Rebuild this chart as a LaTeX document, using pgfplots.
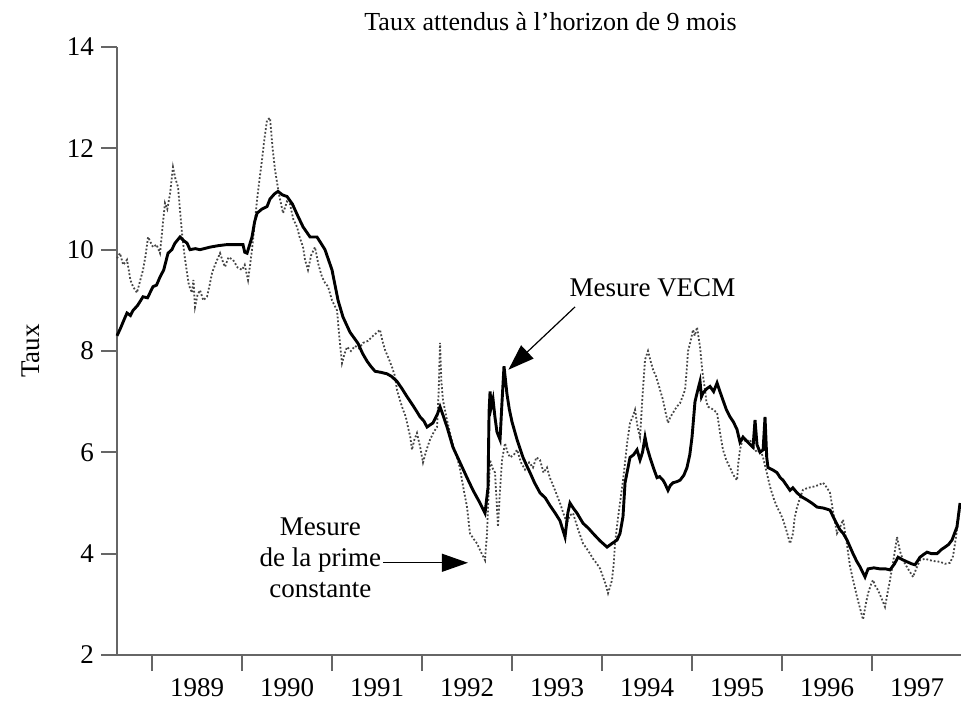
\documentclass[border=0pt]{standalone}
\usepackage{fontspec}
\setmainfont{Liberation Serif}
\usepackage{pgfplots}
\usepackage{pgfplotstable}
\pgfplotsset{compat=1.18}
\usetikzlibrary{arrows.meta}

\pgfplotstableread{
x y
1988.611 8.30
1988.650 8.45
1988.690 8.62
1988.722 8.75
1988.760 8.70
1988.789 8.80
1988.840 8.90
1988.900 9.07
1988.950 9.05
1989.011 9.27
1989.050 9.30
1989.089 9.46
1989.130 9.60
1989.178 9.93
1989.220 10.00
1989.256 10.13
1989.311 10.25
1989.350 10.18
1989.389 10.13
1989.422 10.00
1989.480 10.02
1989.533 10.00
1989.644 10.05
1989.740 10.08
1989.833 10.10
1989.930 10.10
1990.011 10.10
1990.030 9.95
1990.056 9.93
1990.111 10.25
1990.140 10.55
1990.167 10.72
1990.220 10.80
1990.278 10.85
1990.311 11.00
1990.360 11.10
1990.400 11.15
1990.450 11.08
1990.500 11.05
1990.560 10.90
1990.611 10.70
1990.678 10.45
1990.756 10.25
1990.833 10.25
1990.880 10.12
1990.922 10.00
1991.000 9.60
1991.067 9.00
1991.122 8.67
1991.200 8.37
1991.289 8.15
1991.340 7.95
1991.389 7.80
1991.430 7.70
1991.478 7.60
1991.540 7.58
1991.611 7.55
1991.660 7.50
1991.722 7.40
1991.780 7.25
1991.833 7.10
1991.890 6.95
1991.944 6.80
1991.978 6.70
1992.020 6.62
1992.056 6.50
1992.122 6.58
1992.170 6.75
1992.200 6.90
1992.240 6.70
1992.278 6.50
1992.344 6.10
1992.422 5.80
1992.500 5.50
1992.567 5.25
1992.644 5.00
1992.700 4.80
1992.733 5.30
1992.745 6.80
1992.756 7.20
1992.770 6.90
1992.789 7.05
1992.810 6.70
1992.833 6.40
1992.867 6.25
1992.889 7.00
1992.911 7.70
1992.944 7.15
1992.970 6.85
1993.000 6.60
1993.056 6.25
1993.122 5.90
1993.160 5.75
1993.200 5.60
1993.250 5.40
1993.311 5.20
1993.370 5.10
1993.422 4.95
1993.480 4.80
1993.533 4.65
1993.589 4.33
1993.620 4.80
1993.644 5.00
1993.680 4.90
1993.722 4.80
1993.789 4.60
1993.850 4.50
1993.900 4.40
1993.980 4.25
1994.056 4.13
1994.110 4.20
1994.167 4.27
1994.200 4.40
1994.233 4.73
1994.256 5.40
1994.278 5.60
1994.311 5.90
1994.350 5.95
1994.389 6.05
1994.422 5.85
1994.450 6.00
1994.478 6.30
1994.500 6.10
1994.533 5.90
1994.570 5.70
1994.611 5.50
1994.640 5.52
1994.678 5.45
1994.700 5.38
1994.733 5.25
1994.760 5.35
1994.789 5.40
1994.830 5.42
1994.867 5.45
1994.910 5.55
1994.944 5.70
1994.975 5.95
1995.000 6.30
1995.033 7.00
1995.060 7.20
1995.089 7.40
1995.105 7.10
1995.122 7.17
1995.160 7.25
1995.200 7.30
1995.240 7.20
1995.278 7.37
1995.310 7.20
1995.344 7.03
1995.380 6.85
1995.422 6.70
1995.460 6.60
1995.500 6.45
1995.533 6.20
1995.567 6.30
1995.620 6.20
1995.678 6.10
1995.700 6.64
1995.722 6.15
1995.756 6.00
1995.790 6.05
1995.811 6.70
1995.830 5.90
1995.844 5.70
1995.900 5.65
1995.944 5.60
1995.980 5.50
1996.011 5.45
1996.050 5.35
1996.089 5.25
1996.120 5.30
1996.167 5.20
1996.220 5.12
1996.278 5.06
1996.330 5.00
1996.389 4.92
1996.460 4.90
1996.533 4.86
1996.590 4.65
1996.644 4.47
1996.680 4.40
1996.722 4.27
1996.789 4.00
1996.830 3.85
1996.867 3.74
1996.922 3.54
1996.956 3.70
1997.020 3.72
1997.089 3.70
1997.150 3.70
1997.200 3.68
1997.250 3.80
1997.289 3.93
1997.340 3.88
1997.389 3.84
1997.440 3.80
1997.478 3.78
1997.533 3.93
1997.570 3.98
1997.611 4.03
1997.660 4.00
1997.722 4.00
1997.770 4.08
1997.811 4.13
1997.850 4.18
1997.889 4.27
1997.944 4.53
1997.978 5.00
}\vecm

\pgfplotstableread{
x y
1988.611 9.83
1988.644 9.93
1988.680 9.70
1988.722 9.80
1988.760 9.40
1988.789 9.27
1988.833 9.15
1988.870 9.40
1988.900 9.60
1988.930 9.90
1988.956 10.25
1989.011 10.05
1989.050 10.10
1989.089 9.93
1989.120 10.50
1989.144 10.92
1989.170 10.80
1989.200 11.10
1989.233 11.63
1989.260 11.40
1989.289 11.24
1989.310 10.80
1989.333 10.33
1989.360 9.90
1989.389 9.54
1989.410 9.30
1989.444 9.15
1989.460 9.40
1989.478 8.87
1989.505 9.10
1989.533 9.20
1989.570 9.00
1989.611 9.07
1989.640 9.30
1989.667 9.54
1989.700 9.70
1989.756 9.93
1989.790 9.75
1989.811 9.66
1989.850 9.85
1989.900 9.80
1989.950 9.65
1990.000 9.60
1990.030 9.70
1990.067 9.40
1990.090 9.70
1990.111 10.00
1990.140 10.50
1990.167 10.98
1990.195 11.40
1990.222 11.77
1990.250 12.20
1990.278 12.56
1990.311 12.60
1990.340 12.00
1990.367 11.57
1990.410 11.10
1990.456 10.72
1990.500 10.95
1990.533 10.90
1990.570 10.60
1990.611 10.45
1990.640 10.25
1990.678 10.05
1990.700 9.80
1990.733 9.60
1990.770 9.90
1990.811 10.05
1990.850 9.70
1990.889 9.46
1990.920 9.35
1990.956 9.27
1991.000 9.00
1991.056 8.80
1991.080 8.30
1991.111 7.76
1991.140 7.95
1991.167 8.08
1991.210 8.00
1991.256 8.10
1991.300 8.05
1991.344 8.16
1991.400 8.20
1991.444 8.28
1991.490 8.35
1991.533 8.42
1991.560 8.20
1991.589 8.02
1991.630 7.85
1991.667 7.68
1991.700 7.50
1991.722 7.23
1991.760 7.00
1991.789 6.84
1991.820 6.70
1991.844 6.50
1991.870 6.30
1991.889 6.05
1991.915 6.25
1991.944 6.38
1991.980 6.10
1992.011 5.80
1992.050 6.05
1992.089 6.25
1992.130 6.40
1992.167 6.50
1992.185 7.20
1992.200 8.16
1992.215 7.40
1992.233 7.03
1992.270 6.70
1992.311 6.38
1992.350 6.10
1992.389 5.90
1992.420 5.70
1992.444 5.45
1992.470 5.20
1992.500 4.92
1992.520 4.60
1992.533 4.40
1992.570 4.30
1992.611 4.20
1992.650 4.05
1992.700 3.87
1992.722 4.40
1992.740 5.20
1992.756 5.85
1992.780 5.70
1992.811 5.60
1992.830 5.00
1992.844 4.53
1992.865 5.20
1992.889 5.85
1992.922 6.18
1992.950 6.00
1992.978 5.90
1993.020 5.95
1993.056 6.05
1993.100 5.80
1993.144 5.66
1993.190 5.80
1993.233 5.70
1993.270 5.90
1993.311 5.85
1993.350 5.60
1993.389 5.70
1993.420 5.50
1993.456 5.35
1993.500 5.15
1993.533 5.00
1993.570 4.80
1993.611 4.60
1993.640 4.75
1993.678 4.80
1993.730 4.50
1993.789 4.20
1993.830 4.10
1993.867 4.00
1993.900 3.90
1993.944 3.80
1993.980 3.70
1994.011 3.54
1994.040 3.40
1994.067 3.22
1994.090 3.35
1994.111 3.48
1994.130 3.80
1994.144 4.20
1994.170 4.60
1994.200 5.00
1994.230 5.40
1994.256 5.80
1994.280 6.20
1994.311 6.58
1994.340 6.70
1994.367 6.84
1994.395 6.50
1994.422 6.30
1994.450 7.10
1994.478 7.83
1994.511 8.00
1994.540 7.80
1994.567 7.63
1994.600 7.50
1994.622 7.37
1994.650 7.20
1994.678 7.03
1994.705 6.80
1994.733 6.58
1994.760 6.70
1994.789 6.78
1994.830 6.90
1994.867 6.97
1994.895 7.10
1994.922 7.23
1994.940 7.60
1994.956 8.00
1994.985 8.20
1995.011 8.42
1995.030 8.30
1995.056 8.47
1995.070 8.30
1995.089 8.08
1995.115 7.60
1995.144 7.23
1995.160 7.00
1995.178 6.90
1995.230 6.85
1995.278 6.78
1995.310 6.40
1995.344 6.05
1995.380 5.85
1995.422 5.70
1995.460 5.55
1995.500 5.45
1995.515 5.80
1995.533 6.05
1995.567 6.30
1995.600 6.20
1995.644 6.25
1995.680 6.10
1995.722 6.00
1995.760 6.05
1995.789 5.90
1995.830 5.60
1995.867 5.32
1995.905 5.10
1995.944 4.92
1995.980 4.80
1996.011 4.67
1996.050 4.45
1996.089 4.20
1996.122 4.40
1996.140 4.70
1996.167 4.92
1996.200 5.10
1996.233 5.26
1996.290 5.30
1996.344 5.32
1996.400 5.35
1996.456 5.40
1996.500 5.30
1996.533 5.20
1996.570 4.80
1996.611 4.40
1996.640 4.50
1996.678 4.67
1996.720 4.20
1996.756 3.74
1996.800 3.40
1996.833 3.15
1996.870 2.90
1996.900 2.70
1996.930 3.00
1996.956 3.22
1996.990 3.40
1997.011 3.48
1997.040 3.35
1997.067 3.28
1997.110 3.10
1997.144 2.95
1997.170 3.20
1997.200 3.48
1997.240 3.90
1997.278 4.33
1997.310 4.05
1997.344 3.87
1997.400 3.70
1997.456 3.54
1997.490 3.70
1997.533 3.87
1997.590 3.90
1997.644 3.87
1997.700 3.85
1997.756 3.84
1997.810 3.80
1997.867 3.82
1997.900 3.95
1997.922 4.20
1997.950 4.55
1997.978 4.92
}\prime

\begin{document}
\begin{tikzpicture}
\useasboundingbox (-58.5pt,-23pt) rectangle (422pt,327.5pt);
\begin{axis}[
  at={(0pt,0pt)}, anchor=south west,
  scale only axis, width=422.5pt, height=304pt,
  xmin=1988.611, xmax=1998, ymin=2, ymax=14,
  axis x line=bottom, axis y line=left,
  axis line style={-, draw=gray!80!black, line width=0.9pt},
  tick align=outside, major tick length=8pt,
  tick style={draw=gray!80!black, line width=0.9pt},
  xtick={1989,1990,1991,1992,1993,1994,1995,1996,1997,1998},
  x tick label as interval,
  xticklabels={1989,1990,1991,1992,1993,1994,1995,1996,1997},
  xticklabel style={text height=9.3pt, text depth=0pt},
  ytick={2,4,6,8,10,12,14},
  /pgf/number format/assume math mode=true,
  tick label style={font=\fontsize{13.5}{16}\selectfont},
  label style={font=\fontsize{13.5}{16}\selectfont},
  ylabel={Taux},
  ylabel style={at={(axis description cs:-0.102,0.5)}, anchor=center},
  title={Taux attendus à l’horizon de 9 mois},
  title style={font=\fontsize{13}{16}\selectfont, at={(axis description cs:0.513,1.041)}, anchor=center, yshift=-6pt},
  clip=false,
]
\addplot[densely dotted, draw=gray!55!black, line width=0.9pt] table[x=x,y=y] {\prime};
\addplot[black, line width=1.45pt] table[x=x,y=y] {\vecm};
\node[font=\fontsize{13.5}{16}\selectfont] at (axis cs:1994.56,9.24) {Mesure VECM};
\draw[-{Triangle[length=13pt,width=9pt]}, line width=0.6pt] (axis cs:1993.70,8.87) -- (axis cs:1992.96,7.63);
\node[font=\fontsize{13.5}{15.5}\selectfont, align=center] at (axis cs:1990.87,3.915) {Mesure\\de la prime\\constante};
\draw[-{Triangle[length=13pt,width=9pt]}, line width=0.6pt] (axis cs:1991.57,3.82) -- (axis cs:1992.51,3.82);
\end{axis}
\draw[gray!80!black, line width=0.9pt] (-7pt,0pt) -- (0pt,0pt);
\end{tikzpicture}
\end{document}
